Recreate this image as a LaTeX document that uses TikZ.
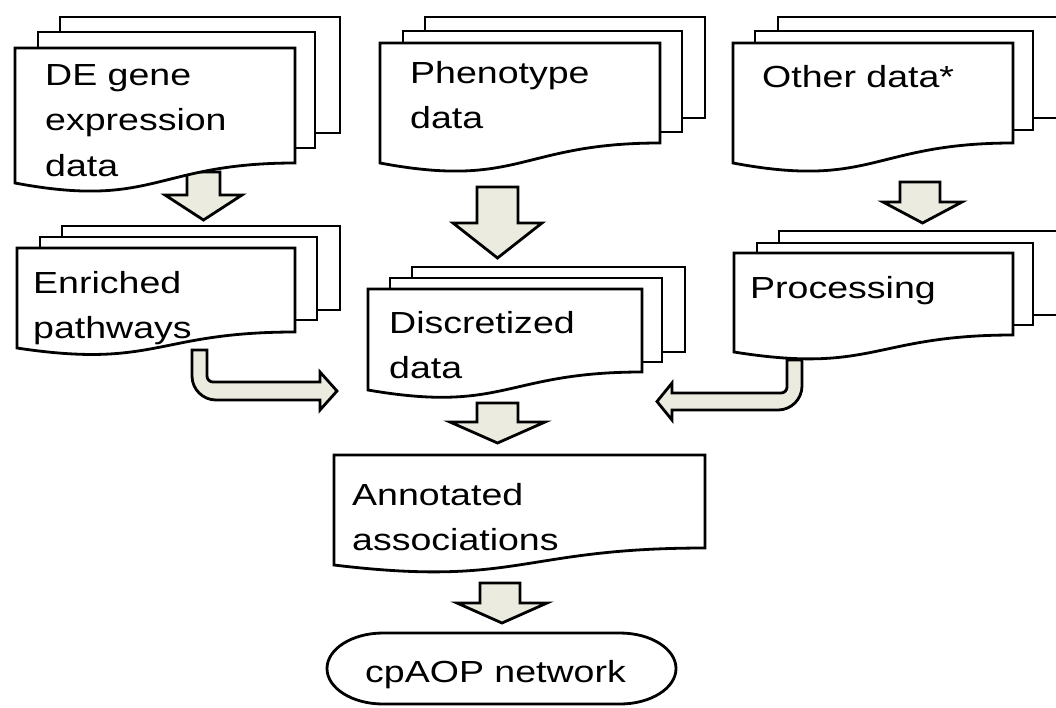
\documentclass[tikz,border=0pt]{standalone}
\usepackage{fontspec}
\setmainfont{Liberation Sans}[FakeStretch=1.23]
\definecolor{arrowfill}{RGB}{236,235,224}
\tikzset{
  docline/.style={draw=black, line width=2.8pt, fill=white, line join=miter},
  blockarrow/.style={draw=black, line width=2.8pt, fill=arrowfill, line join=miter},
  lbl/.style={anchor=base west, inner sep=0pt, align=left, font=\fontsize{30.5}{45.5}\selectfont}
}
% back sheet: left, top, right, bottom
\newcommand\sheetback[4]{\path[docline] (#1,#2) rectangle (#3,#4);}
% front document: left, top, right, right-bottom, left-bottom
\newcommand\sheetfront[5]{\path[docline] (#1,#2) -- (#3,#2) -- (#3,#4)
  .. controls ({(#1+#3)/2},#4) and ({(#1+#3)/2},{#4+2.316*(#5-#4)}) .. (#1,#5) -- cycle;}
% down block arrow: shaft left, shaft right, top, head base, head left, head right, tip
\newcommand\blockdown[7]{\path[blockarrow] (#1,#3) -- (#2,#3) -- (#2,#4) -- (#6,#4)
  -- ({(#5+#6)/2},#7) -- (#5,#4) -- (#1,#4) -- cycle;}
\begin{document}
\begin{tikzpicture}[x=1pt,y=-1pt]
\useasboundingbox (0,0) rectangle (1056,707);
\fill[white] (0,0) rectangle (1056,707);
\clip (0,0) rectangle (1056,707);

% block arrows (drawn below documents)
\blockdown{187}{220}{172}{195}{165}{242}{220}
\blockdown{477}{518}{187}{223}{453}{542}{258}
\blockdown{900}{940}{182}{202}{883}{962}{223}
\blockdown{477}{518}{403}{422}{450}{545}{443}
\blockdown{480}{520}{583}{603}{457}{547}{623}

% bent arrow from Enriched pathways
\path[blockarrow] (192,350) -- (207,350) -- (207,376)
  .. controls (207,379.3) and (209.7,382) .. (213,382) -- (320,382) -- (320,372)
  -- (337,391) -- (320,410) -- (320,400) -- (216,400)
  .. controls (202.8,400) and (192,389.2) .. (192,376) -- cycle;
% bent arrow from Processing
\path[blockarrow] (787,360) -- (802,360) -- (802,386)
  .. controls (802,399.2) and (791.2,410) .. (778,410) -- (672,410) -- (672,420)
  -- (657,401.5) -- (672,383) -- (672,393) -- (781,393)
  .. controls (784.3,393) and (787,390.3) .. (787,387) -- cycle;

% DE gene expression data
\sheetback{60}{17}{340}{133}
\sheetback{38}{32}{315}{148}
\sheetfront{15}{48}{295}{163}{183}
\node[lbl] (de) at (45,176) {DE gene\\expression\\data};

% Phenotype data
\sheetback{425}{17}{705}{118}
\sheetback{403}{31}{682}{132}
\sheetfront{380}{43}{660}{143}{163}
\node[lbl] (pheno) at (410,128.5) {Phenotype\\data};

% Other data*
\sheetback{778}{17}{1080}{118}
\sheetback{755}{31}{1033}{130}
\sheetfront{733}{43}{1013}{143}{163}
\node[lbl] (other) at (762,87) {Other data*};

% Enriched pathways
\sheetback{62}{226}{340}{310}
\sheetback{40}{237}{317}{320}
\sheetfront{17}{248}{295}{332}{348}
\node[lbl] (enr) at (33,338.5) {Enriched\\pathways};

% Processing
\sheetback{779}{231}{1080}{315}
\sheetback{757}{243}{1033}{325}
\sheetfront{734}{253}{1013}{335}{352}
\node[lbl] (proc) at (750,298) {Processing};

% Discretized data
\sheetback{412}{267}{685}{352}
\sheetback{390}{278}{662}{362}
\sheetfront{368}{289}{642}{372}{390}
\node[lbl] (disc) at (389,378.5) {Discretized\\data};

% Annotated associations
\sheetfront{334}{455}{705}{548}{565}
\node[lbl] (annot) at (352,550.5) {Annotated\\associations};

% cpAOP network terminator
\path[docline] (383,633) -- (620,633)
  .. controls (650.9,633) and (676,648.9) .. (676,668.5)
  .. controls (676,688.1) and (650.9,704) .. (620,704)
  -- (383,704)
  .. controls (352.1,704) and (327,688.1) .. (327,668.5)
  .. controls (327,648.9) and (352.1,633) .. (383,633) -- cycle;
\node[anchor=base, inner sep=0pt, font=\fontsize{30.5}{45.5}\selectfont] (cpaop) at (495.5,682) {cpAOP network};
\end{tikzpicture}
\end{document}
